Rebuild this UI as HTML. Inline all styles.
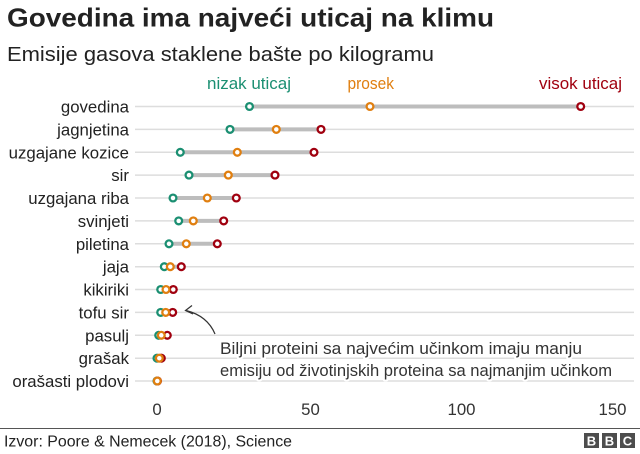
<!DOCTYPE html>
<html>
<head>
<meta charset="utf-8">
<style>
  html, body { margin:0; padding:0; background:#ffffff; }
  body { width:640px; height:454px; overflow:hidden; }
  svg { display:block; }
  text { font-family: "Liberation Sans", Arial, Helvetica, sans-serif; }
</style>
</head>
<body>
<svg width="640" height="454" viewBox="0 0 640 454" xmlns="http://www.w3.org/2000/svg">
  <rect x="0" y="0" width="640" height="454" fill="#ffffff"/>

  <!-- Title & subtitle -->
  <text x="7" y="26.5" font-size="26" font-weight="bold" fill="#222222" textLength="487" lengthAdjust="spacingAndGlyphs">Govedina ima najveći uticaj na klimu</text>
  <text x="7" y="61" font-size="20.5" fill="#222222" textLength="427" lengthAdjust="spacingAndGlyphs">Emisije gasova staklene bašte po kilogramu</text>

  <!-- Legend -->
  <text x="207" y="89" font-size="16.5" fill="#1b8f72" textLength="84" lengthAdjust="spacingAndGlyphs">nizak uticaj</text>
  <text x="347.5" y="89" font-size="16.5" fill="#e07f10" textLength="46.5" lengthAdjust="spacingAndGlyphs">prosek</text>
  <text x="539" y="89" font-size="16.5" fill="#a0000f" textLength="83" lengthAdjust="spacingAndGlyphs">visok uticaj</text>

  <!-- Gridlines -->
  <g stroke="#dddddd" stroke-width="1.5">
    <line x1="135" y1="106.5" x2="634" y2="106.5"/>
    <line x1="135" y1="129.4" x2="634" y2="129.4"/>
    <line x1="135" y1="152.3" x2="634" y2="152.3"/>
    <line x1="135" y1="175.1" x2="634" y2="175.1"/>
    <line x1="135" y1="198" x2="634" y2="198"/>
    <line x1="135" y1="220.9" x2="634" y2="220.9"/>
    <line x1="135" y1="243.8" x2="634" y2="243.8"/>
    <line x1="135" y1="266.7" x2="634" y2="266.7"/>
    <line x1="135" y1="289.5" x2="634" y2="289.5"/>
    <line x1="135" y1="312.4" x2="634" y2="312.4"/>
    <line x1="135" y1="335.3" x2="634" y2="335.3"/>
    <line x1="135" y1="358.2" x2="634" y2="358.2"/>
    <line x1="135" y1="381" x2="634" y2="381"/>
  </g>

  <!-- Row labels -->
  <g font-size="16.8" fill="#222222" text-anchor="end">
    <text x="129" y="112.5">govedina</text>
    <text x="129" y="135.4">jagnjetina</text>
    <text x="129" y="158.3">uzgajane kozice</text>
    <text x="129" y="181.1">sir</text>
    <text x="129" y="204">uzgajana riba</text>
    <text x="129" y="226.9">svinjeti</text>
    <text x="129" y="249.8">piletina</text>
    <text x="129" y="272.7">jaja</text>
    <text x="129" y="295.5">kikiriki</text>
    <text x="129" y="318.4">tofu sir</text>
    <text x="129" y="341.3">pasulj</text>
    <text x="129" y="364.2">grašak</text>
    <text x="129" y="387">orašasti plodovi</text>
  </g>

  <!-- Range bars -->
  <g stroke="#bdbdbd" stroke-width="4">
    <line x1="249.5" y1="106.5" x2="580.7" y2="106.5"/>
    <line x1="230" y1="129.4" x2="321" y2="129.4"/>
    <line x1="180.3" y1="152.3" x2="314" y2="152.3"/>
    <line x1="189" y1="175.1" x2="275" y2="175.1"/>
    <line x1="173" y1="198" x2="236.3" y2="198"/>
    <line x1="178.7" y1="220.9" x2="223.7" y2="220.9"/>
    <line x1="169" y1="243.8" x2="217.3" y2="243.8"/>
    <line x1="164.3" y1="266.7" x2="181.3" y2="266.7"/>
    <line x1="160.7" y1="289.5" x2="173.3" y2="289.5"/>
    <line x1="160.7" y1="312.4" x2="172.7" y2="312.4"/>
    <line x1="158.7" y1="335.3" x2="167.3" y2="335.3"/>
    <line x1="157" y1="358.2" x2="161.3" y2="358.2"/>
  </g>

  <!-- Low (green) -->
  <g fill="#ffffff" stroke="#1b8f72" stroke-width="2.3">
    <circle cx="249.5" cy="106.5" r="3.4"/>
    <circle cx="230" cy="129.4" r="3.4"/>
    <circle cx="180.3" cy="152.3" r="3.4"/>
    <circle cx="189" cy="175.1" r="3.4"/>
    <circle cx="173" cy="198" r="3.4"/>
    <circle cx="178.7" cy="220.9" r="3.4"/>
    <circle cx="169" cy="243.8" r="3.4"/>
    <circle cx="164.3" cy="266.7" r="3.4"/>
    <circle cx="160.7" cy="289.5" r="3.4"/>
    <circle cx="160.7" cy="312.4" r="3.4"/>
    <circle cx="158.7" cy="335.3" r="3.4"/>
    <circle cx="157" cy="358.2" r="3.4"/>
    <circle cx="157" cy="381" r="3.4"/>
  </g>

  <!-- High (red) -->
  <g fill="#ffffff" stroke="#a0000f" stroke-width="2.3">
    <circle cx="580.7" cy="106.5" r="3.4"/>
    <circle cx="321" cy="129.4" r="3.4"/>
    <circle cx="314" cy="152.3" r="3.4"/>
    <circle cx="275" cy="175.1" r="3.4"/>
    <circle cx="236.3" cy="198" r="3.4"/>
    <circle cx="223.7" cy="220.9" r="3.4"/>
    <circle cx="217.3" cy="243.8" r="3.4"/>
    <circle cx="181.3" cy="266.7" r="3.4"/>
    <circle cx="173.3" cy="289.5" r="3.4"/>
    <circle cx="172.7" cy="312.4" r="3.4"/>
    <circle cx="167.3" cy="335.3" r="3.4"/>
    <circle cx="161.3" cy="358.2" r="3.4"/>
    <circle cx="157.5" cy="381" r="3.4"/>
  </g>

  <!-- Average (orange) -->
  <g fill="#ffffff" stroke="#e07f10" stroke-width="2.3">
    <circle cx="370" cy="106.5" r="3.4"/>
    <circle cx="276.3" cy="129.4" r="3.4"/>
    <circle cx="237.3" cy="152.3" r="3.4"/>
    <circle cx="228.3" cy="175.1" r="3.4"/>
    <circle cx="207.3" cy="198" r="3.4"/>
    <circle cx="193.3" cy="220.9" r="3.4"/>
    <circle cx="186.3" cy="243.8" r="3.4"/>
    <circle cx="170.3" cy="266.7" r="3.4"/>
    <circle cx="166" cy="289.5" r="3.4"/>
    <circle cx="165.7" cy="312.4" r="3.4"/>
    <circle cx="161.3" cy="335.3" r="3.4"/>
    <circle cx="159.3" cy="358.2" r="3.4"/>
    <circle cx="157.3" cy="381" r="3.4"/>
  </g>

  <!-- Annotation arrow -->
  <path d="M215 334 C 210 322, 200 314, 186 310.5" fill="none" stroke="#333333" stroke-width="1.2"/>
  <path d="M192 305.5 L185.5 310.5 L193 314" fill="none" stroke="#333333" stroke-width="1.2"/>

  <!-- Annotation text (white halo) -->
  <g font-size="16.8" fill="#333333">
    <text x="220" y="354" stroke="#ffffff" stroke-width="4" stroke-linejoin="round" paint-order="stroke" textLength="362" lengthAdjust="spacingAndGlyphs">Biljni proteini sa najvećim učinkom imaju manju</text>
    <text x="220" y="376" stroke="#ffffff" stroke-width="4" stroke-linejoin="round" paint-order="stroke" textLength="392" lengthAdjust="spacingAndGlyphs">emisiju od životinjskih proteina sa najmanjim učinkom</text>
  </g>

  <!-- X axis tick labels -->
  <g font-size="16.8" fill="#333333" text-anchor="middle">
    <text x="157" y="415">0</text>
    <text x="310.5" y="415">50</text>
    <text x="461.5" y="415">100</text>
    <text x="612.5" y="415">150</text>
  </g>

  <!-- Footer -->
  <line x1="0" y1="428.5" x2="640" y2="428.5" stroke="#555555" stroke-width="1"/>
  <text x="4" y="446.5" font-size="15.5" fill="#222222" textLength="288" lengthAdjust="spacingAndGlyphs">Izvor: Poore &amp; Nemecek (2018), Science</text>

  <!-- BBC logo -->
  <g fill="#4d4d4d">
    <rect x="584" y="433" width="15" height="15"/>
    <rect x="602" y="433" width="15" height="15"/>
    <rect x="620" y="433" width="15" height="15"/>
  </g>
  <g font-size="13" font-weight="bold" fill="#ffffff" text-anchor="middle">
    <text x="591.5" y="445.5">B</text>
    <text x="609.5" y="445.5">B</text>
    <text x="627.5" y="445.5">C</text>
  </g>
</svg>
</body>
</html>
